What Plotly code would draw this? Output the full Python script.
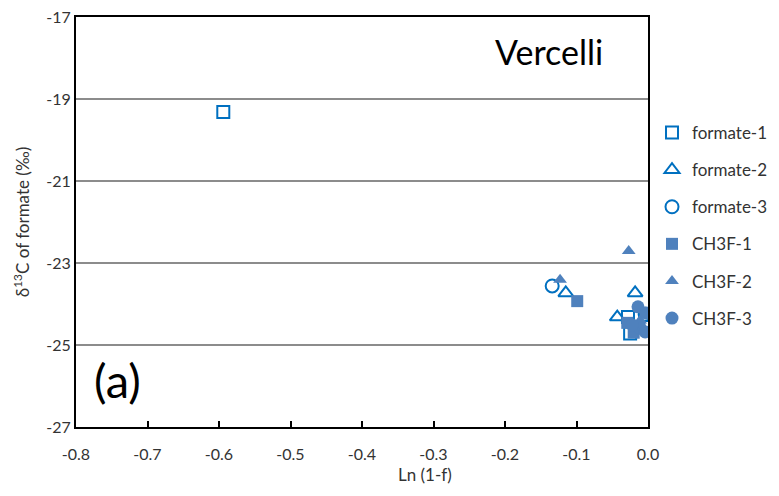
import plotly.graph_objects as go

# Data
f1_x = [-0.594, -0.028, -0.025, -0.003]
f1_y = [-19.32, -24.32, -24.72, -24.27]
f2_x = [-0.115, -0.018, -0.043]
f2_y = [-23.73, -23.73, -24.32]
f3_x = [-0.134, -0.004]
f3_y = [-23.56, -24.25]
c1_x = [-0.099, -0.029, -0.020, -0.012]
c1_y = [-23.93, -24.46, -24.70, -24.55]
c2_x = [-0.027, -0.123, -0.011]
c2_y = [-22.71, -23.41, -24.40]
c3_x = [-0.014, -0.003, -0.011, -0.022, -0.004]
c3_y = [-24.07, -24.22, -24.59, -24.51, -24.68]

x_ticks = [-0.8, -0.7, -0.6, -0.5, -0.4, -0.3, -0.2, -0.1, 0.0]
x_labels = ["-0.8", "-0.7", "-0.6", "-0.5", "-0.4", "-0.3", "-0.2", "-0.1", "0.0"]
y_ticks = [-27, -25, -23, -21, -19, -17]
y_labels = ["-27", "-25", "-23", "-21", "-19", "-17"]

OPEN = "#0070C0"
FILL = "#4F81BD"
FONT = "Lato"
TXT = "#333333"

series = [
    ("formate-1", f1_x, f1_y, "square-open", OPEN, 12),
    ("formate-2", f2_x, f2_y, "triangle-up-open", OPEN, 13),
    ("formate-3", f3_x, f3_y, "circle-open", OPEN, 13),
    ("CH3F-1", c1_x, c1_y, "square", FILL, 12),
    ("CH3F-2", c2_x, c2_y, "triangle-up", FILL, 12),
    ("CH3F-3", c3_x, c3_y, "circle", FILL, 13),
]

fig = go.Figure()
for name, xs, ys, sym, col, sz in series:
    fig.add_trace(go.Scatter(
        x=xs, y=ys, mode="markers", name=name, legendgroup=name,
        marker=dict(symbol=sym, color=col, size=sz,
                    line=dict(color=col, width=2 if "open" in sym else 0)),
    ))

fig.update_layout(
    width=779, height=496,
    margin=dict(l=68, r=139, t=9, b=77),
    paper_bgcolor="white", plot_bgcolor="white",
    font=dict(family=FONT, size=16, color=TXT),
    showlegend=True,
    legend=dict(x=1.007, xanchor="left", y=0.761, yanchor="top",
                tracegroupgap=12, font=dict(size=17, family=FONT, color=TXT),
                itemwidth=30),
    annotations=[
        dict(text="Vercelli", x=0.925, y=0.915, xref="paper", yref="paper",
             xanchor="right", yanchor="middle", showarrow=False,
             font=dict(size=34, family=FONT, color="black")),
        dict(text="(a)", x=0.028, y=0.115, xref="paper", yref="paper",
             xanchor="left", yanchor="middle", showarrow=False,
             font=dict(size=47, family=FONT, color="black")),
        dict(text="Ln (1-f)", x=0.611, y=-0.117, xref="paper", yref="paper",
             xanchor="center", yanchor="middle", showarrow=False,
             font=dict(size=17, family=FONT, color=TXT)),
    ],
)
fig.update_xaxes(
    range=[-0.8, 0.0], tickvals=x_ticks, ticktext=x_labels, automargin=False,
    showgrid=False, zeroline=False, ticklabeloverflow="allow",
    ticklabelstandoff=12,
    showline=True, linecolor="black", linewidth=2, mirror=True,
    ticks="inside", ticklen=6, tickwidth=1.5, tickcolor="black",
    tickfont=dict(size=16, family=FONT, color=TXT),
)
fig.update_yaxes(
    range=[-27, -17], tickvals=y_ticks, ticktext=y_labels, automargin=False,
    showgrid=True, gridcolor="#8C8C8C", gridwidth=1.5, zeroline=False,
    ticklabeloverflow="allow",
    showline=True, linecolor="black", linewidth=2, mirror=True,
    ticks="",
    title=dict(text="δ<sup>13</sup>C of formate (‰)", font=dict(size=17, family=FONT, color=TXT), standoff=12),
    tickfont=dict(size=16, family=FONT, color=TXT),
)

fig.write_html("out.html")
